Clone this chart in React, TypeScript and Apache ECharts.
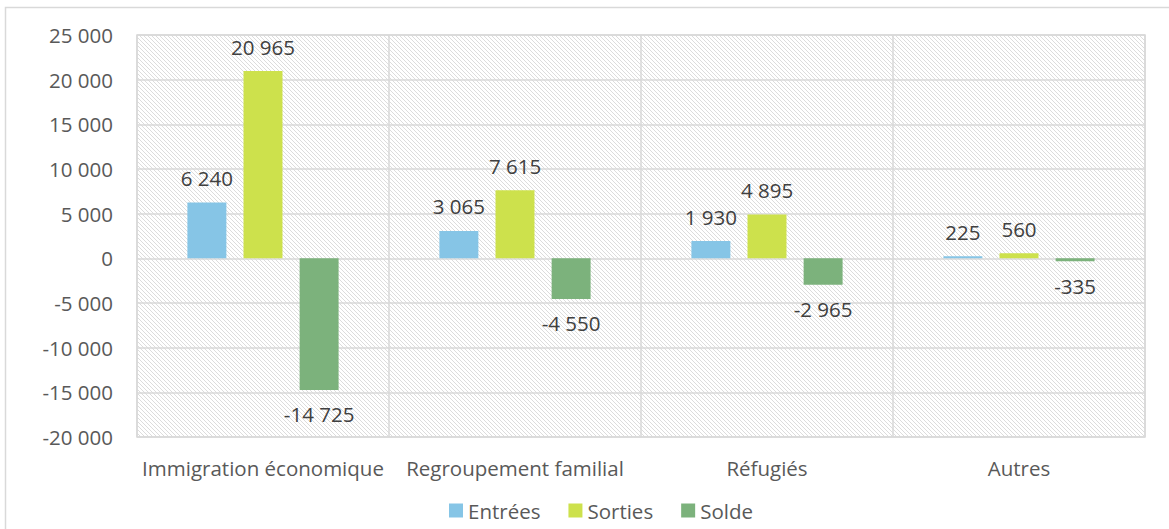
import React, { useEffect, useRef } from "react";
import * as echarts from "echarts";

const categories = ["Immigration économique", "Regroupement familial", "Réfugiés", "Autres"];
const entrees = [6240, 3065, 1930, 225];
const sorties = [20965, 7615, 4895, 560];
const solde = [-14725, -4550, -2965, -335];
const seriesNames = ["Entrées", "Sorties", "Solde"];
const seriesColors = ["#86c5e6", "#cde14c", "#7cb27c"];

const fmt = (v: number) => {
  const s = Math.abs(v).toString().replace(/\B(?=(\d{3})+(?!\d))/g, " ");
  return (v < 0 ? "-" : "") + s;
};

const FONT = "'Open Sans', 'Noto Sans', sans-serif";
const FS = 20.5;

function makeHatch() {
  const c = document.createElement("canvas");
  c.width = 4;
  c.height = 4;
  const ctx = c.getContext("2d")!;
  ctx.fillStyle = "#ffffff";
  ctx.fillRect(0, 0, 4, 4);
  ctx.fillStyle = "#dcdcdc";
  for (let i = 0; i < 4; i++) ctx.fillRect(i, i, 1, 1);
  return c;
}

export default function App() {
  const ref = useRef<HTMLDivElement>(null);
  useEffect(() => {
    document.body.style.margin = "0";
    const chart = echarts.init(ref.current!, undefined, { renderer: "svg" });
    const mk = (vals: number[]) =>
      vals.map((v) => ({
        value: v,
        label: { position: v < 0 ? "bottom" : "top" },
      }));
    const all = [entrees, sorties, solde];
    chart.setOption({
      animation: false,
      backgroundColor: "#ffffff",
      textStyle: { fontFamily: FONT },
      graphic: [
        {
          type: "rect",
          shape: { x: 5.5, y: 7.5, width: 1200, height: 600 },
          style: { fill: "none", stroke: "#d9d9d9", lineWidth: 1.5 },
          silent: true,
        },
      ],
      grid: {
        left: 137,
        right: 24,
        top: 35,
        bottom: 92,
        show: true,
        borderColor: "#d9d9d9",
        borderWidth: 1.5,
        backgroundColor: { image: makeHatch(), repeat: "repeat" },
      },
      legend: {
        bottom: 3,
        left: 444,
        itemWidth: 14,
        itemHeight: 14,
        itemGap: 28,
        icon: "rect",
        data: seriesNames,
        textStyle: { fontSize: FS, color: "#595959", fontFamily: FONT, padding: [0, 0, 0, 0] },
      },
      xAxis: {
        type: "category",
        data: categories,
        axisLine: { show: false },
        axisTick: { show: false },
        splitLine: { show: true, interval: 0, lineStyle: { color: "#d9d9d9", width: 1.5 } },
        axisLabel: { interval: 0, fontSize: FS, color: "#595959", margin: 20, fontFamily: FONT },
      },
      yAxis: {
        type: "value",
        min: -20000,
        max: 25000,
        interval: 5000,
        axisLine: { show: false },
        axisTick: { show: false },
        splitLine: { lineStyle: { color: "#d9d9d9", width: 1.5 } },
        axisLabel: { fontSize: FS, color: "#595959", margin: 24, formatter: (v: number) => fmt(v), fontFamily: FONT },
      },
      series: all.map((vals, i) => ({
        name: seriesNames[i],
        type: "bar",
        data: mk(vals),
        barGap: "44%",
        barCategoryGap: "40%",
        itemStyle: { color: seriesColors[i] },
        label: {
          show: true,
          distance: 14,
          fontSize: FS,
          color: "#404040",
          fontFamily: FONT,
          formatter: (p: any) => fmt(p.value),
        },
      })),
    });
    return () => chart.dispose();
  }, []);
  return <div ref={ref} style={{ width: 1169, height: 529 }} />;
}
